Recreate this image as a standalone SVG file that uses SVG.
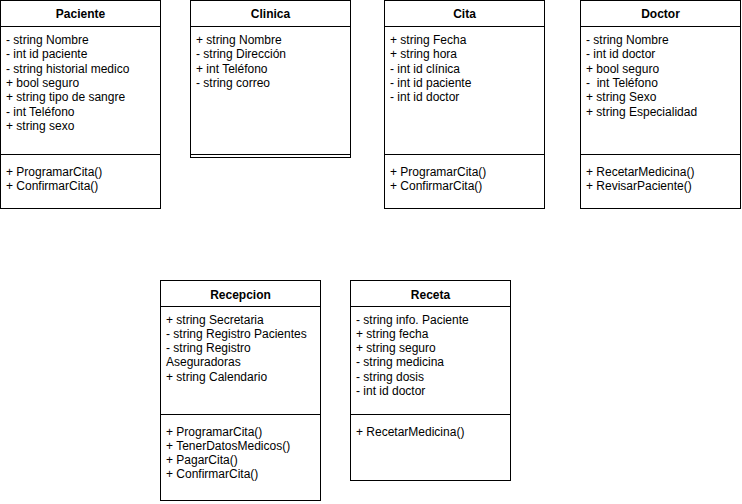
<svg xmlns="http://www.w3.org/2000/svg" width="742" height="504" viewBox="0 0 742 504">
<style>
  .box { fill: #ffffff; stroke: #000000; stroke-width: 1; }
  .ln { stroke: #000000; stroke-width: 1; fill: none; }
  .t { font-family: "Liberation Sans", Arial, Helvetica, sans-serif; font-size: 12px; font-weight: bold; fill: #000000; text-anchor: middle; }
  .m { font-family: "Liberation Sans", Arial, Helvetica, sans-serif; font-size: 12px; fill: #000000; white-space: pre; }
</style>
<rect x="0" y="0" width="742" height="504" fill="#ffffff"/>
<g id="connectors"/>

<g id="paciente">
  <rect class="box" x="0.5" y="0.5" width="160" height="208"/>
  <line class="ln" x1="0.5" y1="26.5" x2="160.5" y2="26.5"/>
  <line class="ln" x1="0.5" y1="154.5" x2="160.5" y2="154.5"/>
  <text class="t" x="80.5" y="18">Paciente</text>
  <text class="m">
    <tspan x="6" y="44">- string Nombre</tspan>
    <tspan x="6" y="58.3">- int id paciente</tspan>
    <tspan x="6" y="72.6">- string historial medico</tspan>
    <tspan x="6" y="86.9">+ bool seguro</tspan>
    <tspan x="6" y="101.2">+ string tipo de sangre</tspan>
    <tspan x="6" y="115.5">- int Teléfono</tspan>
    <tspan x="6" y="129.8">+ string sexo</tspan>
  </text>
  <text class="m">
    <tspan x="6" y="175.5">+ ProgramarCita()</tspan>
    <tspan x="6" y="189.8">+ ConfirmarCita()</tspan>
  </text>
</g>

<g id="clinica">
  <rect class="box" x="190.5" y="0.5" width="160" height="157"/>
  <line class="ln" x1="190.5" y1="26.5" x2="350.5" y2="26.5"/>
  <line class="ln" x1="190.5" y1="154.5" x2="350.5" y2="154.5"/>
  <text class="t" x="270.5" y="18">Clinica</text>
  <text class="m">
    <tspan x="196" y="44">+ string Nombre</tspan>
    <tspan x="196" y="58.3">- string Dirección</tspan>
    <tspan x="196" y="72.6">+ int Teléfono</tspan>
    <tspan x="196" y="86.9">- string correo</tspan>
  </text>
</g>

<g id="cita">
  <rect class="box" x="384.5" y="0.5" width="160" height="208"/>
  <line class="ln" x1="384.5" y1="26.5" x2="544.5" y2="26.5"/>
  <line class="ln" x1="384.5" y1="154.5" x2="544.5" y2="154.5"/>
  <text class="t" x="464.5" y="18">Cita</text>
  <text class="m">
    <tspan x="390" y="44">+ string Fecha</tspan>
    <tspan x="390" y="58.3">+ string hora</tspan>
    <tspan x="390" y="72.6">- int id clínica</tspan>
    <tspan x="390" y="86.9">- int id paciente</tspan>
    <tspan x="390" y="101.2">- int id doctor</tspan>
  </text>
  <text class="m">
    <tspan x="390" y="175.5">+ ProgramarCita()</tspan>
    <tspan x="390" y="189.8">+ ConfirmarCita()</tspan>
  </text>
</g>

<g id="doctor">
  <rect class="box" x="580.5" y="0.5" width="160" height="208"/>
  <line class="ln" x1="580.5" y1="26.5" x2="740.5" y2="26.5"/>
  <line class="ln" x1="580.5" y1="154.5" x2="740.5" y2="154.5"/>
  <text class="t" x="660.5" y="18">Doctor</text>
  <text class="m">
    <tspan x="586" y="44">- string Nombre</tspan>
    <tspan x="586" y="58.3">- int id doctor</tspan>
    <tspan x="586" y="72.6">+ bool seguro</tspan>
    <tspan x="586" y="86.9">-  int Teléfono</tspan>
    <tspan x="586" y="101.2">+ string Sexo</tspan>
    <tspan x="586" y="115.5">+ string Especialidad</tspan>
  </text>
  <text class="m">
    <tspan x="586" y="175.5">+ RecetarMedicina()</tspan>
    <tspan x="586" y="189.8">+ RevisarPaciente()</tspan>
  </text>
</g>

<g id="recepcion">
  <rect class="box" x="160.5" y="280.5" width="160" height="220"/>
  <line class="ln" x1="160.5" y1="306.5" x2="320.5" y2="306.5"/>
  <line class="ln" x1="160.5" y1="414.5" x2="320.5" y2="414.5"/>
  <text class="t" x="240.5" y="298.5">Recepcion</text>
  <text class="m">
    <tspan x="166" y="323.5">+ string Secretaria</tspan>
    <tspan x="166" y="337.8">- string Registro Pacientes</tspan>
    <tspan x="166" y="352.1">- string Registro</tspan>
    <tspan x="166" y="366.4">Aseguradoras</tspan>
    <tspan x="166" y="380.7">+ string Calendario</tspan>
  </text>
  <text class="m">
    <tspan x="166" y="435.5">+ ProgramarCita()</tspan>
    <tspan x="166" y="449.8">+ TenerDatosMedicos()</tspan>
    <tspan x="166" y="464.1">+ PagarCita()</tspan>
    <tspan x="166" y="478.4">+ ConfirmarCita()</tspan>
  </text>
</g>

<g id="receta">
  <rect class="box" x="350.5" y="280.5" width="160" height="200"/>
  <line class="ln" x1="350.5" y1="306.5" x2="510.5" y2="306.5"/>
  <line class="ln" x1="350.5" y1="414.5" x2="510.5" y2="414.5"/>
  <text class="t" x="430.5" y="298.5">Receta</text>
  <text class="m">
    <tspan x="356" y="323.5">- string info. Paciente</tspan>
    <tspan x="356" y="337.8">+ string fecha</tspan>
    <tspan x="356" y="352.1">+ string seguro</tspan>
    <tspan x="356" y="366.4">- string medicina</tspan>
    <tspan x="356" y="380.7">- string dosis</tspan>
    <tspan x="356" y="395">- int id doctor</tspan>
  </text>
  <text class="m">
    <tspan x="356" y="435.5">+ RecetarMedicina()</tspan>
  </text>
</g>
</svg>
